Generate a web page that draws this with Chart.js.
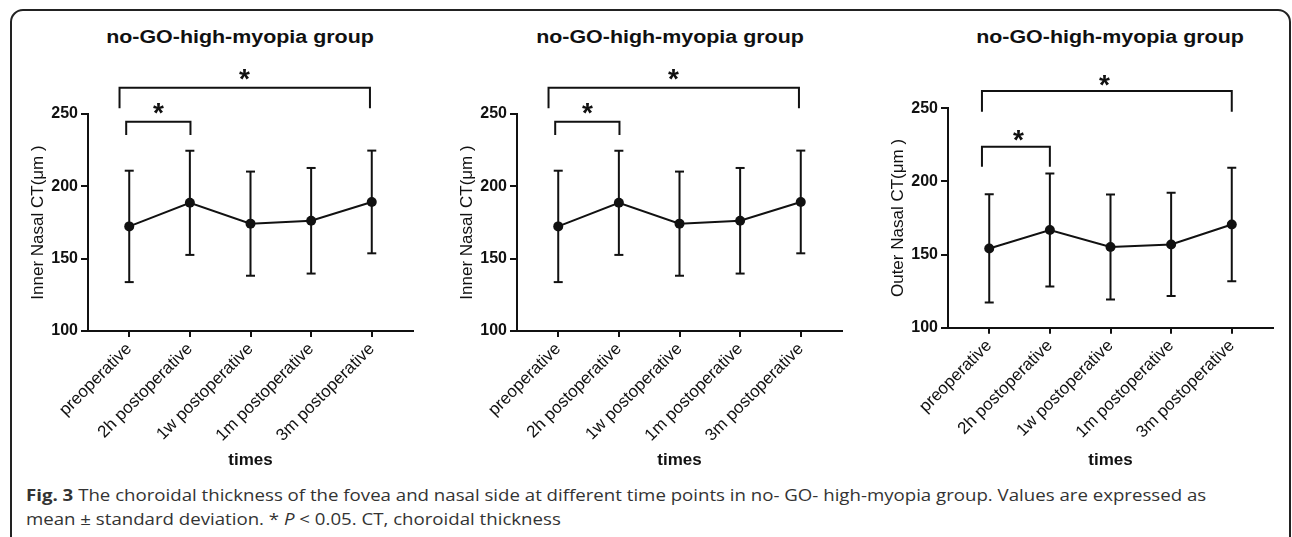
<!DOCTYPE html>
<html lang="en">
<head>
<meta charset="UTF-8">
<title>no-GO-high-myopia group</title>
<script src="https://cdn.jsdelivr.net/npm/chart.js"></script>
<style>
  body { margin: 0; background: #fff; width: 1292px; height: 537px; overflow: hidden; position: relative; font-family: "Liberation Sans", Arial, sans-serif; }
  .frame { position: absolute; left: 10px; top: 9px; width: 1277px; height: 620px; border: 2px solid #222; border-radius: 13px; }
  .panel { position: absolute; top: 10px; }
  .title { position: absolute; top: 28px; font-weight: bold; font-size: 18px; line-height: 18px; color: #111; white-space: nowrap; transform: translateX(-50%) scaleX(1.19); }
  .caption { position: absolute; left: 26px; top: 483px; font-family: "Open Sans", sans-serif; font-size: 16.5px; line-height: 24px; color: #333; white-space: nowrap; transform: scaleX(1.13); transform-origin: 0 0; }
</style>
</head>
<body>
  <div class="frame"></div>

  <div class="title" style="left:240px">no-GO-high-myopia group</div>
  <div class="title" style="left:670px">no-GO-high-myopia group</div>
  <div class="title" style="left:1110px">no-GO-high-myopia group</div>

  <canvas id="c1" class="panel" width="420" height="470" style="left:10px"></canvas>
  <canvas id="c2" class="panel" width="420" height="470" style="left:439px"></canvas>
  <canvas id="c3" class="panel" width="420" height="470" style="left:870px"></canvas>

  <div class="caption"><b>Fig. 3</b> The choroidal thickness of the fovea and nasal side at different time points in no- GO- high-myopia group. Values are expressed as<br>mean ± standard deviation. * <i>P</i> &lt; 0.05. CT, choroidal thickness</div>

<script>
  // data
  const categories = ['preoperative', '2h postoperative', '1w postoperative', '1m postoperative', '3m postoperative'];
  const innerMean = [172.3, 188.6, 174.2, 176.2, 189.2];
  const innerSD = [38.5, 36.0, 36.0, 36.5, 35.5];
  const outerMean = [154.2, 166.8, 155.2, 156.9, 170.6];
  const outerSD = [37.0, 38.7, 35.9, 35.3, 38.8];
  const yTicks = [100, 150, 200, 250];

  // significance brackets: [from, to, leg bottom, bar height] and stars [x, y], in data units
  const innerBrackets = [[-0.16, 3.97, 254.0, 268.2], [-0.05, 1.01, 235.5, 244.7]];
  const innerStars = [[1.9, 277.0], [0.48, 254.1]];
  const outerBrackets = [[-0.12, 4.0, 247.7, 261.8], [-0.12, 1.0, 210.1, 223.7]];
  const outerStars = [[1.9, 269.3], [0.48, 231.7]];

  const ink = '#111';
  const family = '"Liberation Sans", Arial, sans-serif';
  Chart.defaults.font.family = family;
  Chart.defaults.color = ink;

  const starPlugin = {
    id: 'stars',
    afterDatasetsDraw(chart, args, opts) {
      const { ctx, scales: { x, y } } = chart;
      ctx.save();
      ctx.font = 'bold 28px ' + family;
      ctx.fillStyle = ink;
      ctx.textAlign = 'center';
      const m = ctx.measureText('*');
      const shift = (m.actualBoundingBoxAscent - m.actualBoundingBoxDescent) / 2;
      opts.points.forEach(([sx, sy]) => {
        ctx.fillText('*', x.getPixelForValue(sx), y.getPixelForValue(sy) + shift);
      });
      ctx.restore();
    }
  };

  function makeChart(id, mean, sd, brackets, stars, yTitle, padTop, xHeight) {
    const errData = [];
    mean.forEach((m, i) => {
      errData.push({ x: i, y: m - sd[i] }, { x: i, y: m + sd[i] }, { x: i, y: null });
    });

    const datasets = [
      {
        data: mean.map((m, i) => ({ x: i, y: m })),
        borderColor: ink, borderWidth: 2,
        pointRadius: 5, pointBackgroundColor: ink, pointBorderWidth: 0
      },
      {
        data: errData,
        borderColor: ink, borderWidth: 2, spanGaps: false,
        pointStyle: 'line', pointRadius: 4.5, pointBorderWidth: 2, pointBorderColor: ink
      }
    ];
    brackets.forEach(([a, b, leg, top]) => {
      datasets.push({
        data: [{ x: a, y: leg }, { x: a, y: top }, { x: b, y: top }, { x: b, y: leg }],
        borderColor: ink, borderWidth: 2, pointRadius: 0, clip: false,
        borderJoinStyle: 'miter'
      });
    });

    const axisLine = { display: true, color: ink, width: 2 };

    return new Chart(document.getElementById(id), {
      type: 'line',
      data: { datasets },
      plugins: [starPlugin],
      options: {
        responsive: false,
        animation: false,
        layout: { padding: { top: padTop, right: 17, left: 0, bottom: 0 } },
        plugins: {
          legend: { display: false },
          tooltip: { enabled: false },
          stars: { points: stars }
        },
        scales: {
          x: {
            type: 'linear', min: -0.68, max: 4.68,
            afterBuildTicks: s => { s.ticks = categories.map((c, i) => ({ value: i })); },
            afterFit: s => { s.height = xHeight; },
            border: axisLine,
            grid: { drawOnChartArea: false, drawTicks: true, tickLength: 6, color: ink, lineWidth: 2 },
            ticks: {
              autoSkip: false, minRotation: 45, maxRotation: 45, padding: 2,
              font: { family, size: 17 },
              callback: v => categories[v]
            },
            title: { display: true, text: 'times', font: { family, size: 17, weight: 'bold' }, padding: { top: 0, bottom: 9 } }
          },
          y: {
            min: 100, max: 250,
            afterBuildTicks: s => { s.ticks = yTicks.map(v => ({ value: v })); },
            afterFit: s => { s.width = 78; },
            border: axisLine,
            grid: { drawOnChartArea: false, drawTicks: true, tickLength: 7, color: ink, lineWidth: 2 },
            ticks: { padding: 3, font: { family, size: 16, weight: 'bold' } },
            title: { display: true, text: yTitle, font: { family, size: 17 }, padding: { top: 18, bottom: 0 } }
          }
        }
      }
    });
  }

  makeChart('c1', innerMean, innerSD, innerBrackets, innerStars, 'Inner Nasal CT(μm )', 104, 149);
  makeChart('c2', innerMean, innerSD, innerBrackets, innerStars, 'Inner Nasal CT(μm )', 104, 149);
  makeChart('c3', outerMean, outerSD, outerBrackets, outerStars, 'Outer Nasal CT(μm )', 98.3, 152.3);
</script>
</body>
</html>
